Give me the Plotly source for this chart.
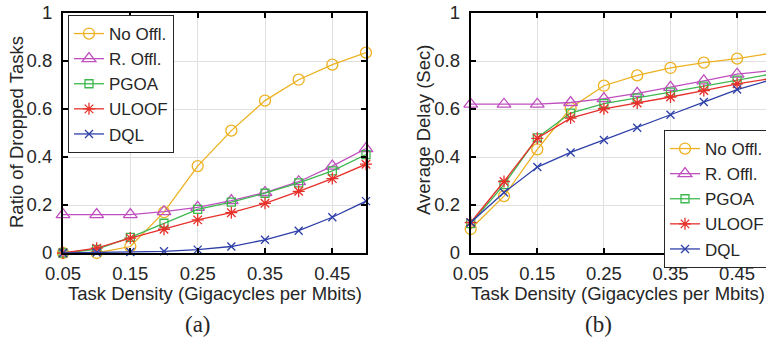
import plotly.graph_objects as go

x_density = [0.05, 0.10, 0.15, 0.20, 0.25, 0.30, 0.35, 0.40, 0.45, 0.50]
series_names = ["No Offl.", "R. Offl.", "PGOA", "ULOOF", "DQL"]

# (a) Ratio of dropped tasks
drop_no_offl = [0.0, 0.0, 0.027, 0.17, 0.362, 0.51, 0.635, 0.722, 0.785, 0.835]
drop_r_offl = [0.16, 0.16, 0.16, 0.172, 0.19, 0.218, 0.252, 0.297, 0.362, 0.435]
drop_pgoa = [0.0, 0.015, 0.065, 0.124, 0.182, 0.212, 0.249, 0.292, 0.342, 0.41]
drop_uloof = [0.0, 0.02, 0.062, 0.099, 0.138, 0.168, 0.207, 0.257, 0.31, 0.37]
drop_dql = [0.0, 0.002, 0.004, 0.007, 0.014, 0.027, 0.055, 0.093, 0.149, 0.216]

# (b) Average delay (Sec)
delay_no_offl = [0.10, 0.237, 0.432, 0.604, 0.697, 0.74, 0.771, 0.793, 0.81, 0.832]
delay_r_offl = [0.62, 0.62, 0.62, 0.627, 0.643, 0.665, 0.69, 0.717, 0.745, 0.76]
delay_pgoa = [0.122, 0.285, 0.48, 0.583, 0.622, 0.645, 0.67, 0.695, 0.72, 0.745]
delay_uloof = [0.127, 0.298, 0.478, 0.562, 0.601, 0.625, 0.65, 0.677, 0.705, 0.727]
delay_dql = [0.127, 0.252, 0.358, 0.419, 0.471, 0.522, 0.576, 0.629, 0.681, 0.721]

x_tick_vals = [0.05, 0.15, 0.25, 0.35, 0.45]
x_tick_text = ["0.05", "0.15", "0.25", "0.35", "0.45"]
y_tick_vals = [0, 0.2, 0.4, 0.6, 0.8, 1.0]
y_tick_text = ["0", "0.2", "0.4", "0.6", "0.8", "1"]

x_title = "Task Density (Gigacycles per Mbits)"
y_title_a = "Ratio of Dropped Tasks"
y_title_b = "Average Delay (Sec)"
panel_labels = ["(a)", "(b)"]

colors = ["#EDB120", "#BF4FBF", "#3DB84F", "#E6302A", "#2E3FA8"]
symbols = ["circle-open", "triangle-up-open", "square-open", "asterisk-open", "x-thin-open"]
msizes = [11, 12, 8, 10, 8]

W, H = 766, 347
FONT = "Liberation Sans, Arial, sans-serif"
TXT = "#262626"

fig = go.Figure()

data_a = [drop_no_offl, drop_r_offl, drop_pgoa, drop_uloof, drop_dql]
data_b = [delay_no_offl, delay_r_offl, delay_pgoa, delay_uloof, delay_dql]

for i, name in enumerate(series_names):
    fig.add_trace(go.Scatter(
        x=x_density, y=data_a[i], name=name, mode="lines+markers",
        line=dict(color=colors[i], width=1.3),
        marker=dict(symbol=symbols[i], size=msizes[i], color=colors[i],
                    line=dict(color=colors[i], width=1.3)),
        xaxis="x", yaxis="y", legend="legend", cliponaxis=False,
    ))
for i, name in enumerate(series_names):
    fig.add_trace(go.Scatter(
        x=x_density, y=data_b[i], name=name, mode="lines+markers",
        line=dict(color=colors[i], width=1.3),
        marker=dict(symbol=symbols[i], size=msizes[i], color=colors[i],
                    line=dict(color=colors[i], width=1.3)),
        xaxis="x2", yaxis="y2", legend="legend2", cliponaxis=False,
    ))

def px_x(p):
    return p / W

def px_y(p):
    return 1 - p / H

ydom = [px_y(253), px_y(13)]

common_x = dict(
    tickvals=x_tick_vals, ticktext=x_tick_text,
    ticks="inside", ticklen=5, tickwidth=2, tickcolor="black",
    showline=True, linecolor="black", linewidth=2,
    showgrid=True, gridcolor="#e0e0e0", gridwidth=1,
    zeroline=False, tickfont=dict(family=FONT, size=18.5, color=TXT),
    ticklabelstandoff=3, automargin=False,
)
common_y = dict(
    range=[0, 1], tickvals=y_tick_vals, ticktext=y_tick_text,
    ticks="inside", ticklen=5, tickwidth=2, tickcolor="black",
    showline=True, linecolor="black", linewidth=2,
    showgrid=True, gridcolor="#e0e0e0", gridwidth=1,
    zeroline=False, tickfont=dict(family=FONT, size=18.5, color=TXT),
    ticklabelstandoff=5, automargin=False,
)

fig.update_layout(
    template="none",
    width=W, height=H,
    margin=dict(l=0, r=0, t=0, b=0, autoexpand=False),
    paper_bgcolor="white", plot_bgcolor="white",
    xaxis=dict(domain=[px_x(63), px_x(366)], range=[0.05, 0.5], anchor="y",
               mirror="all", **common_x),
    yaxis=dict(domain=ydom, anchor="x", mirror="all", **common_y),
    xaxis2=dict(domain=[px_x(470.7), 1.0], range=[0.05, 0.05 + (766 - 470.7) / 666.0],
                anchor="y2", mirror="all", **common_x),
    yaxis2=dict(domain=ydom, anchor="x2", mirror=False, **common_y),
    legend=dict(x=px_x(68), y=px_y(15), xanchor="left", yanchor="top",
                bgcolor="white", bordercolor=TXT, borderwidth=1,
                font=dict(family=FONT, size=17, color=TXT),
                itemwidth=30, tracegroupgap=0),
    legend2=dict(x=px_x(664), y=px_y(130), xanchor="left", yanchor="top",
                 bgcolor="white", bordercolor=TXT, borderwidth=1,
                 font=dict(family=FONT, size=17, color=TXT),
                 itemwidth=30, tracegroupgap=0),
    showlegend=True,
)

axis_font = dict(family=FONT, size=18.5, color=TXT)
# axis titles placed as paper annotations
fig.add_annotation(text=x_title, x=px_x(214.5), y=px_y(293), xref="paper", yref="paper",
                   xanchor="center", yanchor="middle", showarrow=False, font=axis_font)
fig.add_annotation(text=x_title, x=px_x(618), y=px_y(293), xref="paper", yref="paper",
                   xanchor="center", yanchor="middle", showarrow=False, font=axis_font)
fig.add_annotation(text=y_title_a, x=px_x(16), y=px_y(132), xref="paper", yref="paper",
                   xanchor="center", yanchor="middle", showarrow=False, textangle=-90, font=axis_font)
fig.add_annotation(text=y_title_b, x=px_x(423), y=px_y(130), xref="paper", yref="paper",
                   xanchor="center", yanchor="middle", showarrow=False, textangle=-90, font=axis_font)

serif = dict(family="Liberation Serif, Times New Roman, serif", size=23, color=TXT)
fig.add_annotation(text=panel_labels[0], x=px_x(198), y=px_y(324), xref="paper", yref="paper",
                   xanchor="center", yanchor="middle", showarrow=False, font=serif)
fig.add_annotation(text=panel_labels[1], x=px_x(598), y=px_y(324), xref="paper", yref="paper",
                   xanchor="center", yanchor="middle", showarrow=False, font=serif)

fig.write_html("out.html")
